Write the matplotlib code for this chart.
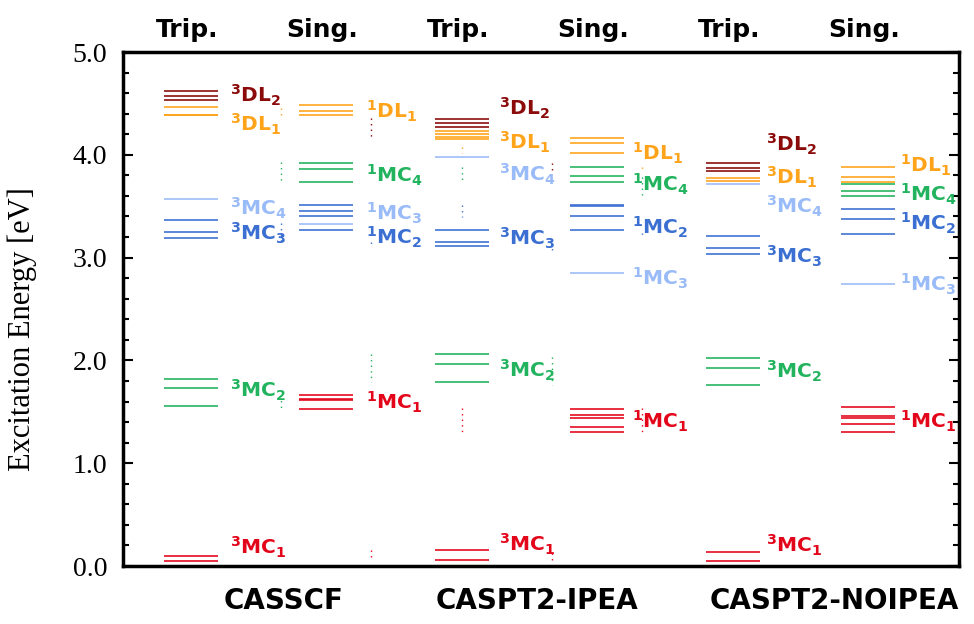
import matplotlib
matplotlib.use("Agg")
import matplotlib.pyplot as plt
from matplotlib.ticker import MultipleLocator

plt.rcParams["mathtext.fontset"] = "dejavusans"

# energy levels [eV] per column, grouped by state family
casscf_trip = {"DL2": [4.624, 4.575, 4.533], "DL1": [4.468, 4.392, 4.383],
               "MC4": [3.570], "MC3": [3.369, 3.252, 3.187],
               "MC2": [1.819, 1.728, 1.559], "MC1": [0.097, 0.049]}
casscf_sing = {"DL1": [4.481, 4.430, 4.390], "MC4": [3.923, 3.862, 3.735],
               "MC3": [3.330], "MC2": [3.509, 3.453, 3.408, 3.265],
               "MC1": [1.663, 1.624, 1.610, 1.530]}
ipea_trip = {"DL2": [4.345, 4.306, 4.267], "DL1": [4.235, 4.200, 4.176, 4.157],
             "MC4": [3.976], "MC3": [3.268, 3.149, 3.113],
             "MC2": [2.059, 1.962, 1.790], "MC1": [0.156, 0.058]}
ipea_sing = {"DL1": [4.160, 4.110, 4.020], "MC4": [3.885, 3.790, 3.740],
             "MC2": [3.512, 3.500, 3.400, 3.268], "MC3": [2.853],
             "MC1": [1.524, 1.469, 1.437, 1.355, 1.306]}
noipea_trip = {"DL2": [3.917, 3.868, 3.842], "DL1": [3.777, 3.742],
               "MC4": [3.719], "MC3": [3.207, 3.090, 3.035],
               "MC2": [2.026, 1.929, 1.758], "MC1": [0.133, 0.049]}
noipea_sing = {"DL1": [3.881, 3.781, 3.735], "MC4": [3.713, 3.648, 3.599],
               "MC2": [3.476, 3.372, 3.230], "MC3": [2.746],
               "MC1": [1.547, 1.462, 1.440, 1.378, 1.304]}

# label heights [eV]
casscf_trip_lab = {"DL2": 4.58, "DL1": 4.30, "MC4": 3.48, "MC3": 3.24, "MC2": 1.71, "MC1": 0.18}
casscf_sing_lab = {"DL1": 4.42, "MC4": 3.80, "MC3": 3.43, "MC2": 3.195, "MC1": 1.59}
ipea_trip_lab = {"DL2": 4.45, "DL1": 4.12, "MC4": 3.81, "MC3": 3.19, "MC2": 1.90, "MC1": 0.21}
ipea_sing_lab = {"DL1": 4.01, "MC4": 3.71, "MC2": 3.29, "MC3": 2.80, "MC1": 1.405}
noipea_trip_lab = {"DL2": 4.10, "DL1": 3.78, "MC4": 3.50, "MC3": 3.01, "MC2": 1.89, "MC1": 0.20}
noipea_sing_lab = {"DL1": 3.90, "MC4": 3.61, "MC2": 3.33, "MC3": 2.74, "MC1": 1.405}

methods = ["CASSCF", "CASPT2-IPEA", "CASPT2-NOIPEA"]
spins = ["Trip.", "Sing."]

# small dotted marks between columns: x, y0, y1, family
dot_x = [1.667, 1.667, 1.667, 1.667, 2.333, 2.333, 2.333, 2.333,
         3.0, 3.0, 3.0, 3.0, 3.667, 3.667, 3.667, 3.667,
         4.333, 4.333, 4.333, 4.333]
dot_y0 = [4.455, 3.93, 3.337, 1.663, 4.358, 3.15, 2.062, 0.156,
          4.076, 3.88, 3.51, 1.537, 3.92, 3.142, 2.033, 0.126,
          3.88, 3.784, 3.24, 1.537]
dot_y1 = [4.368, 3.726, 3.142, 1.53, 4.173, 3.12, 1.79, 0.05,
          4.018, 3.735, 3.395, 1.303, 3.852, 3.045, 1.76, 0.039,
          3.85, 3.59, 3.2, 1.303]
dot_c = ["orange", "green", "blue", "green", "dred", "blue", "green", "red",
         "orange", "green", "blue", "red", "dred", "blue", "green", "red",
         "orange", "green", "blue", "red"]

col = {"dred": "#8b0a0a", "orange": "#ffa31a", "lblue": "#99bbf7",
       "blue": "#3b6fd1", "green": "#22b35e", "red": "#e3061b"}
trip_col = {"DL2": "dred", "DL1": "orange", "MC4": "lblue", "MC3": "blue",
            "MC2": "green", "MC1": "red"}
sing_col = {"DL1": "orange", "MC4": "green", "MC3": "lblue", "MC2": "blue",
            "MC1": "red"}

columns = [(casscf_trip, casscf_trip_lab, "3", trip_col, 1.0, 1.29),
           (casscf_sing, casscf_sing_lab, "1", sing_col, 2.0, 2.295),
           (ipea_trip, ipea_trip_lab, "3", trip_col, 3.0, 3.277),
           (ipea_sing, ipea_sing_lab, "1", sing_col, 4.0, 4.258),
           (noipea_trip, noipea_trip_lab, "3", trip_col, 5.0, 5.247),
           (noipea_sing, noipea_sing_lab, "1", sing_col, 6.0, 6.236)]

fig = plt.figure(figsize=(9.74, 6.24), dpi=100)
ax = fig.add_axes([123/974, 1 - 566/624, (959 - 123)/974, (566 - 52)/624])

hw = 0.2
for levels, labs, mult, cmap, xc, xl in columns:
    for fam, es in levels.items():
        c = col[cmap[fam]]
        for e in es:
            ax.plot([xc - hw, xc + hw], [e, e], color=c, lw=1.3, alpha=0.9,
                    solid_capstyle="butt")
    for fam, e in labs.items():
        name, idx = fam[:2], fam[2:]
        ax.text(xl, e, r"$\mathbf{^{%s}%s_{%s}}$" % (mult, name, idx),
                color=col[cmap[fam]], fontsize=14.5, va="center", ha="left")

for x, y0, y1, c in zip(dot_x, dot_y0, dot_y1, dot_c):
    ax.plot([x, x], [y0, y1], color=col[c], lw=1.0, ls=(0, (1, 3)))

ax.set_xlim(0.5, 6.67)
ax.set_ylim(0, 5.0)
ax.set_xticks([])
ax.yaxis.set_minor_locator(MultipleLocator(0.2))
ax.set_yticks([0, 1, 2, 3, 4, 5])
ax.set_yticklabels(["0.0", "1.0", "2.0", "3.0", "4.0", "5.0"],
                   family="Liberation Serif", fontsize=20)
ax.tick_params(axis="y", which="both", direction="in", left=True, right=True,
               width=1.5, pad=11.5)
ax.tick_params(axis="y", which="major", length=7)
ax.tick_params(axis="y", which="minor", length=4)
for s in ax.spines.values():
    s.set_linewidth(2.5)
ax.set_ylabel("Excitation Energy [eV]", family="Liberation Serif", fontsize=22)
ax.yaxis.set_label_coords(-0.103, 0.461)

xfx = ax.get_xaxis_transform()
for i, xc in enumerate([1, 2, 3, 4, 5, 6]):
    ax.text(xc - 0.03, 1.02, spins[i % 2], transform=xfx,
            ha="center", va="bottom", fontsize=18, fontweight="bold")

for m, xm in zip(methods, [1.683, 3.557, 5.749]):
    ax.text(xm, -0.04, m, transform=xfx, ha="center",
            va="top", fontsize=20, fontweight="bold")

fig.savefig("out.png", dpi=100)
